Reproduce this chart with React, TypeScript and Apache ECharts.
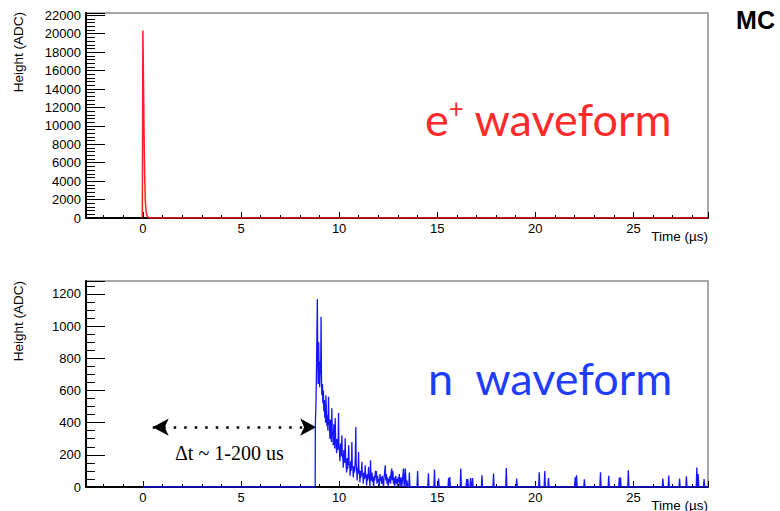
import React, { useEffect, useRef } from "react";
import * as echarts from "echarts";

// ---- axis ranges / ticks ----
const xMin = -2.9;
const xMax = 28.8;
const topYMax = 22250;
const topYInterval = 2000;
const botYMax = 1280;
const botYInterval = 200;

// ---- e+ waveform (top) ----
const posTime = [-0.03, 0.0, 0.03, 0.06, 0.09, 0.12, 0.16, 0.2, 0.26, 0.35, 28.8];
const posHeight = [0, 20350, 15000, 9000, 4500, 2000, 800, 300, 100, 0, 0];

// ---- n waveform (bottom): dense part ----
const nTime = [
  0, 8.78, 8.79, 8.82, 8.85, 8.89, 8.91, 8.93, 8.96, 8.98, 9.01, 9.04, 9.06, 9.08, 9.1, 9.12, 9.15, 9.17,
  9.2, 9.22, 9.25, 9.27, 9.29, 9.31, 9.33, 9.36, 9.38, 9.4, 9.43, 9.46, 9.48, 9.51, 9.53, 9.56, 9.58,
  9.61, 9.63, 9.65, 9.68, 9.7, 9.73, 9.75, 9.78, 9.8, 9.82, 9.85, 9.87, 9.9, 9.92, 9.95, 9.97, 9.99,
  10.02, 10.04, 10.07, 10.09, 10.12, 10.14, 10.16, 10.19, 10.21, 10.24, 10.26, 10.29, 10.31, 10.33,
  10.36, 10.38, 10.41, 10.43, 10.46, 10.49, 10.51, 10.54, 10.56, 10.59, 10.61, 10.63, 10.65, 10.67,
  10.7, 10.72, 10.75, 10.77, 10.8, 10.83, 10.85, 10.87, 10.9, 10.92, 10.95, 10.97, 10.99, 11.01, 11.04,
  11.06, 11.09, 11.11, 11.14, 11.16, 11.18, 11.21, 11.23, 11.26, 11.28, 11.31, 11.33, 11.35, 11.38,
  11.4, 11.43, 11.45, 11.48, 11.5, 11.52, 11.55, 11.57, 11.6, 11.62, 11.65, 11.68, 11.7, 11.73, 11.76,
  11.79, 11.82, 11.85, 11.88, 11.9, 11.93, 11.96, 11.99, 12.02, 12.05, 12.08, 12.11, 12.14, 12.17,
  12.2, 12.23, 12.26, 12.29, 12.32, 12.35, 12.38, 12.41, 12.44, 12.47, 12.5, 12.53, 12.56, 12.59,
  12.62, 12.65, 12.68, 12.71, 12.74, 12.77, 12.8, 12.83, 12.86, 12.89, 12.92, 12.95, 12.98, 13.01,
  13.04, 13.07, 13.1, 13.13, 13.16, 13.19, 13.22, 13.25, 13.28, 13.31, 13.34, 13.37, 13.4, 13.43,
  13.46, 13.49, 13.55, 13.58, 13.61,
];
const nHeight = [
  0, 0, 395, 520, 760, 1168, 820, 640, 900, 700, 620, 780, 700, 1058, 690, 570, 640, 520,
  600, 470, 540, 430, 490, 400, 570, 430, 380, 446, 350, 560, 420, 384, 300, 420, 330,
  280, 490, 330, 342, 260, 390, 300, 240, 428, 300, 280, 210, 300, 230, 280, 459, 250,
  218, 160, 270, 190, 250, 322, 200, 179, 120, 230, 150, 180, 303, 170,
  135, 90, 180, 110, 150, 260, 140, 135, 70, 160, 100, 130, 280, 120,
  116, 60, 130, 90, 110, 200, 373, 150, 93, 40, 120, 80, 218, 110, 93,
  30, 100, 60, 90, 156, 80, 73, 20, 90, 50, 60, 135, 70, 62,
  10, 80, 40, 60, 125, 60, 54, 0, 166, 70, 40, 90, 30, 60, 0,
  70, 40, 100, 60, 100, 20, 70, 30, 50, 0, 80, 40, 60, 20,
  70, 30, 0, 60, 90, 135, 40, 80, 20, 60, 0, 50, 30, 70,
  20, 90, 115, 40, 100, 20, 60, 0, 40, 70, 20, 50, 0, 60,
  30, 80, 0, 40, 60, 0, 30, 70, 115, 20, 0, 115, 60, 0,
  40, 0, 0, 90, 0,
];

// ---- n waveform: isolated single pulses ----
const spikeTime = [
  14.0, 14.55, 14.86, 15.07, 15.58, 15.64, 16.2, 16.5, 16.56, 16.7, 16.8, 17.28, 17.87, 18.52, 19.05,
  20.2, 20.48, 20.67, 22.03, 22.1, 22.5, 23.32, 23.74, 24.28, 24.34, 24.74, 26.5, 26.8, 27.35, 27.7,
  28.23, 28.3, 28.6,
];
const spikeHeight = [
  100, 85, 108, 52, 55, 62, 115, 49, 49, 55, 55, 73, 83, 118, 52,
  92, 100, 56, 60, 73, 48, 92, 69, 58, 58, 104, 52, 71, 52, 67,
  121, 80, 49,
];
const spikeHalfWidth = 0.03;

// ---- annotation ----
const arrowFrom = 0.5;
const arrowTo = 8.83;
const arrowLevel = 372;

const SANS = "'Liberation Sans', Arial, Helvetica, sans-serif";
const BIG = "Lato, 'Open Sans', sans-serif";

function makeXAxis(gridIndex: number) {
  return {
    type: "value",
    gridIndex,
    min: xMin,
    max: xMax,
    minInterval: 5,
    maxInterval: 5,
    splitNumber: 6,
    axisLine: { show: true, onZero: false, lineStyle: { color: "#000", width: 2 } },
    axisTick: { show: true, inside: true, length: 6, lineStyle: { color: "#000", width: 1 } },
    minorTick: { show: true, splitNumber: 5, length: 3, lineStyle: { color: "#000", width: 1 } },
    axisLabel: {
      show: true,
      showMinLabel: false,
      showMaxLabel: false,
      color: "#000",
      fontSize: 13,
      fontFamily: SANS,
      margin: 4,
      formatter: (v: number) => String(v),
    },
    splitLine: { show: false },
    minorSplitLine: { show: false },
  };
}

function makeYAxis(gridIndex: number, max: number, interval: number, minorSplit: number) {
  return {
    type: "value",
    gridIndex,
    min: 0,
    max,
    interval,
    axisLine: { show: true, onZero: false, lineStyle: { color: "#000", width: 2 } },
    axisTick: { show: true, inside: true, length: 19, lineStyle: { color: "#000", width: 1 } },
    minorTick: { show: true, splitNumber: minorSplit, length: 9, lineStyle: { color: "#000", width: 1 } },
    axisLabel: {
      show: true,
      showMaxLabel: false,
      color: "#000",
      fontSize: 13,
      fontFamily: SANS,
      margin: 5,
      formatter: (v: number) => String(v),
    },
    splitLine: { show: false },
    minorSplitLine: { show: false },
  };
}

function txt(x: number, y: number, text: string, extra: any, rotation = 0) {
  return {
    type: "text",
    x,
    y,
    rotation,
    z: 100,
    style: Object.assign({ text, fill: "#000" }, extra),
  };
}

export default function App() {
  const ref = useRef<HTMLDivElement>(null);

  useEffect(() => {
    document.body.style.margin = "0";
    if (!ref.current) return;
    const chart = echarts.init(ref.current, undefined, { renderer: "svg" });

    const posData = posTime.map((t, i) => [t, posHeight[i]]);
    const nData: number[][] = nTime.map((t, i) => [t, nHeight[i]]);
    spikeTime.forEach((t, i) => {
      nData.push([t - spikeHalfWidth, 0]);
      nData.push([t, spikeHeight[i]]);
      nData.push([t + spikeHalfWidth, 0]);
    });
    nData.push([xMax, 0]);

    const axisTitle = {
      fontSize: 13.5,
      fontFamily: SANS,
      textAlign: "right",
      align: "right",
      textVerticalAlign: "middle",
      verticalAlign: "middle",
    };
    const timeTitle = {
      fontSize: 13.5,
      fontFamily: SANS,
      textAlign: "right",
      align: "right",
      textVerticalAlign: "middle",
      verticalAlign: "middle",
    };

    chart.setOption({
      animation: false,
      backgroundColor: "#fff",
      grid: [
        { left: 86, right: 72, top: 13, height: 205, show: true, borderColor: "#8c8c8c", borderWidth: 1.5, backgroundColor: "transparent" },
        { left: 86, right: 72, top: 281, height: 206, show: true, borderColor: "#8c8c8c", borderWidth: 1.5, backgroundColor: "transparent" },
      ],
      xAxis: [makeXAxis(0), makeXAxis(1)],
      yAxis: [makeYAxis(0, topYMax, topYInterval, 5), makeYAxis(1, botYMax, botYInterval, 4)],
      series: [
        {
          type: "line",
          xAxisIndex: 0,
          yAxisIndex: 0,
          data: posData,
          showSymbol: false,
          symbol: "none",
          lineStyle: { color: "#ff2020", width: 1.5 },
          z: 5,
        },
        {
          type: "line",
          xAxisIndex: 1,
          yAxisIndex: 1,
          data: nData,
          showSymbol: false,
          symbol: "none",
          lineStyle: { color: "#1515ff", width: 1.3 },
          z: 5,
          markLine: {
            silent: true,
            symbol: ["arrow", "arrow"],
            symbolSize: [13, 16],
            label: { show: false },
            lineStyle: { color: "#000", width: 2.5, type: [2.5, 8] },
            data: [[{ coord: [arrowFrom, arrowLevel] }, { coord: [arrowTo, arrowLevel] }]],
          },
        },
      ],
      graphic: [
        txt(18, 12, "Height (ADC)", axisTitle, Math.PI / 2),
        txt(18, 281, "Height (ADC)", axisTitle, Math.PI / 2),
        txt(708, 236, "Time (µs)", timeTitle),
        txt(708, 505, "Time (µs)", timeTitle),
        txt(775, 20, "MC", {
          fontSize: 25,
          fontWeight: "bold",
          fontFamily: SANS,
          textAlign: "right",
          align: "right",
          textVerticalAlign: "middle",
          verticalAlign: "middle",
        }),
        {
          type: "text",
          x: 425,
          y: 119,
          z: 100,
          style: {
            text: "{a|e}{b|+}{a| waveform}",
            textVerticalAlign: "middle",
            verticalAlign: "middle",
            rich: {
              a: { fontSize: 45, fontFamily: BIG, fill: "#ff2a2a", color: "#ff2a2a", lineHeight: 48 },
              b: { fontSize: 26, fontFamily: BIG, fill: "#ff2a2a", color: "#ff2a2a", verticalAlign: "top", lineHeight: 26 },
            },
          },
        },
        txt(428, 378, "n  waveform", {
          fontSize: 45,
          fontFamily: BIG,
          fill: "#1f3cff",
          textVerticalAlign: "middle",
          verticalAlign: "middle",
        }),
        txt(175, 453, "Δt ~ 1-200 us", {
          fontSize: 20,
          fontFamily: "'Liberation Serif', 'Times New Roman', serif",
          textVerticalAlign: "middle",
          verticalAlign: "middle",
        }),
      ],
    });

    return () => {
      chart.dispose();
    };
  }, []);

  return <div ref={ref} style={{ width: 780, height: 511 }} />;
}
